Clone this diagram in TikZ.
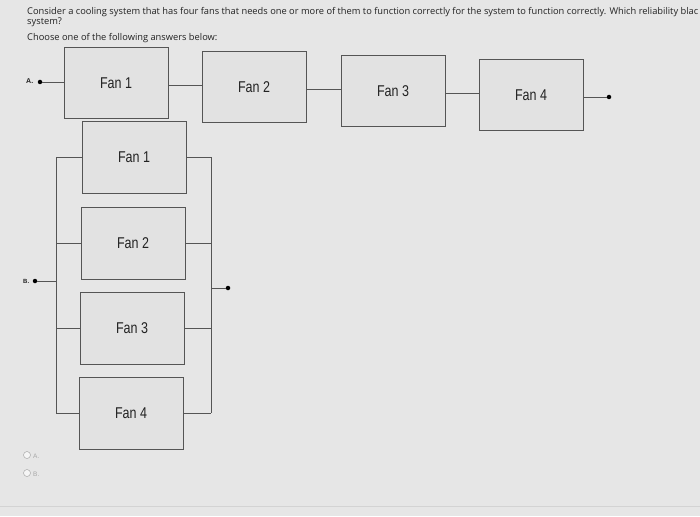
\documentclass[tikz,border=0pt]{standalone}
\usepackage{fontspec}
\setmainfont{Liberation Sans}
\newfontfamily\qfont{Open Sans}
\definecolor{bg}{HTML}{E6E6E6}
\definecolor{boxfill}{HTML}{E2E2E2}
\definecolor{edge}{HTML}{555555}
\definecolor{txt}{HTML}{222222}
\definecolor{faint}{HTML}{A8A8A8}
\begin{document}
\begin{tikzpicture}[x=1pt,y=-1pt,
  fan/.style={draw=edge, fill=boxfill, line width=0.9pt, minimum width=104pt, minimum height=71pt, inner sep=0pt, text=txt, font=\fontsize{12.5}{14}\selectfont},
  wire/.style={draw=edge, line width=0.9pt},
  dotc/.style={circle, fill=black, inner sep=0pt, minimum size=4.5pt},
  qtext/.style={anchor=base west, inner sep=0pt, text=txt, font=\qfont\fontsize{9.3}{10}\selectfont},
  radio/.style={circle, draw=faint, fill=white!60!bg, line width=0.5pt, inner sep=0pt, minimum size=7pt},
  rlabel/.style={anchor=base west, inner sep=0pt, text=faint, font=\fontsize{6.5}{8}\selectfont}]
\useasboundingbox (0,0) rectangle (700,516);
\fill[bg] (0,0) rectangle (700,516);
\clip (0,0) rectangle (700,516);
% question text
\node[qtext] (q1) at (27,15) {\resizebox{671pt}{!}{Consider a cooling system that has four fans that needs one or more of them to function correctly for the system to function correctly. Which reliability blac}};
\node[qtext] (q2) at (27,25) {system?};
\node[qtext] (q3) at (27,41) {Choose one of the following answers below:};
% option A: series
\node[anchor=base west, inner sep=0pt, text=txt, font=\fontsize{7}{8}\selectfont\bfseries] (la) at (26,84) {A.};
\node[dotc] (a0) at (40,82) {};
\node[fan] (a1) at (116,83) {\scalebox{1}[1.25]{Fan 1}};
\node[fan] (a2) at (254,87) {\scalebox{1}[1.25]{Fan 2}};
\node[fan] (a3) at (393,91) {\scalebox{1}[1.25]{Fan 3}};
\node[fan] (a4) at (531,95) {\scalebox{1}[1.25]{Fan 4}};
\node[dotc] (a5) at (609,97) {};
\coordinate (m12) at (0,85);
\coordinate (m23) at (0,89);
\coordinate (m34) at (0,93);
\draw[wire] (a0) -- (a0 -| a1.west);
\draw[wire] (a1.east |- m12) -- (a2.west |- m12);
\draw[wire] (a2.east |- m23) -- (a3.west |- m23);
\draw[wire] (a3.east |- m34) -- (a4.west |- m34);
\draw[wire] (a5 -| a4.east) -- (a5);
% option B: parallel
\node[fan, minimum height=72pt] (b1) at (134,157) {\scalebox{1}[1.25]{Fan 1}};
\node[fan, minimum height=72pt] (b2) at (133,243) {\scalebox{1}[1.25]{Fan 2}};
\node[fan, minimum height=72pt] (b3) at (132,328) {\scalebox{1}[1.25]{Fan 3}};
\node[fan, minimum height=72pt] (b4) at (131,413) {\scalebox{1}[1.25]{Fan 4}};
\coordinate (lt) at (56,157);
\coordinate (lb) at (56,413);
\coordinate (rt) at (211,157);
\coordinate (rb) at (211,413);
\draw[wire] (lt) -- (lb);
\draw[wire] (rt) -- (rb);
\foreach \n in {b1,b2,b3,b4}{
  \draw[wire] (\n.west) -- (\n.west -| lt);
  \draw[wire] (\n.east) -- (\n.east -| rt);
}
\node[anchor=base west, inner sep=0pt, text=txt, font=\fontsize{6}{7}\selectfont\bfseries] (lbB) at (23,283) {B.};
\node[dotc] (bin) at (35,281) {};
\draw[wire] (bin) -- (bin -| lt);
\node[dotc] (bout) at (228,288) {};
\draw[wire] (bout) -- (bout -| rt);
% radio answers
\node[radio] (r1) at (27,455) {};
\node[rlabel] (t1) at (33,458) {A.};
\node[radio] (r2) at (27,473) {};
\node[rlabel] (t2) at (33,476) {B.};
\draw[faint!30!bg, line width=0.6pt] (0,506) -- (700,506);
\end{tikzpicture}
\end{document}
